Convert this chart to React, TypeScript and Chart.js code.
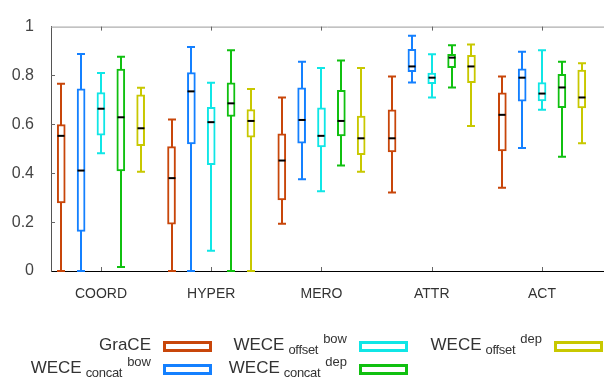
import React, { useEffect, useRef } from "react";
import { Chart, registerables } from "chart.js";

Chart.register(...registerables);

const categories = ["COORD", "HYPER", "MERO", "ATTR", "ACT"];
const seriesColors = ["#c8460a", "#1480ff", "#10e6e6", "#10c010", "#c8c800"];
const seriesMain = ["GraCE", "WECE", "WECE", "WECE", "WECE"];
const seriesSub = ["", "concat", "offset", "concat", "offset"];
const seriesSup = ["", "bow", "bow", "dep", "dep"];

// each row: [min, q1, median, q3, max] for one category
const grace = [
  [0, 0.279, 0.553, 0.599, 0.766],
  [0, 0.192, 0.38, 0.509, 0.62],
  [0.193, 0.291, 0.452, 0.561, 0.71],
  [0.321, 0.487, 0.543, 0.659, 0.796],
  [0.341, 0.491, 0.639, 0.729, 0.796],
];
const weceConcatBow = [
  [0, 0.162, 0.411, 0.745, 0.888],
  [0, 0.52, 0.735, 0.812, 0.917],
  [0.375, 0.523, 0.618, 0.749, 0.856],
  [0.771, 0.816, 0.837, 0.907, 0.963],
  [0.503, 0.695, 0.791, 0.827, 0.897],
];
const weceOffsetBow = [
  [0.482, 0.556, 0.664, 0.73, 0.81],
  [0.083, 0.435, 0.609, 0.67, 0.77],
  [0.326, 0.508, 0.553, 0.668, 0.831],
  [0.71, 0.766, 0.791, 0.81, 0.887],
  [0.66, 0.696, 0.726, 0.771, 0.903],
];
const weceConcatDep = [
  [0.016, 0.41, 0.629, 0.826, 0.877],
  [0, 0.632, 0.686, 0.77, 0.903],
  [0.432, 0.553, 0.614, 0.739, 0.861],
  [0.751, 0.832, 0.873, 0.887, 0.924],
  [0.467, 0.668, 0.751, 0.805, 0.856],
];
const weceOffsetDep = [
  [0.406, 0.513, 0.584, 0.721, 0.75],
  [0, 0.548, 0.614, 0.66, 0.745],
  [0.406, 0.476, 0.543, 0.634, 0.831],
  [0.593, 0.771, 0.837, 0.882, 0.927],
  [0.523, 0.667, 0.71, 0.822, 0.85],
];
const allSeries = [grace, weceConcatBow, weceOffsetBow, weceConcatDep, weceOffsetDep];
const yTickValues = [0, 0.2, 0.4, 0.6, 0.8, 1];
const groupOffset = 0.18;

const boxPlugin = {
  id: "boxWhiskers",
  beforeDatasetsDraw(chart: any) {
    const { ctx, scales } = chart;
    const x = scales.x;
    const y = scales.y;
    ctx.save();
    chart.data.datasets.forEach((ds: any) => {
      ds.stats.forEach((s: number[], i: number) => {
        const px = Math.round(x.getPixelForValue(ds.data[i].x));
        const yMin = y.getPixelForValue(s[0]);
        const yMax = y.getPixelForValue(s[4]);
        ctx.strokeStyle = ds.borderColor;
        ctx.lineWidth = 2;
        ctx.beginPath();
        ctx.moveTo(px, yMin);
        ctx.lineTo(px, yMax);
        ctx.moveTo(px - 4, yMin);
        ctx.lineTo(px + 4, yMin);
        ctx.moveTo(px - 4, yMax);
        ctx.lineTo(px + 4, yMax);
        ctx.stroke();
      });
    });
    ctx.restore();
  },
  afterDatasetsDraw(chart: any) {
    const { ctx, scales, chartArea } = chart;
    const x = scales.x;
    const y = scales.y;
    ctx.save();
    chart.data.datasets.forEach((ds: any) => {
      ds.stats.forEach((s: number[], i: number) => {
        const px = Math.round(x.getPixelForValue(ds.data[i].x));
        const ym = y.getPixelForValue(s[2]);
        ctx.strokeStyle = "#000";
        ctx.lineWidth = 2;
        ctx.beginPath();
        ctx.moveTo(px - 3.5, ym);
        ctx.lineTo(px + 3.5, ym);
        ctx.stroke();
      });
    });
    // top frame line
    ctx.strokeStyle = "#999";
    ctx.lineWidth = 1;
    ctx.beginPath();
    ctx.moveTo(chartArea.left, chartArea.top + 0.5);
    ctx.lineTo(chartArea.right, chartArea.top + 0.5);
    ctx.stroke();
    // inward tick marks
    ctx.strokeStyle = "#666";
    ctx.beginPath();
    categories.forEach((_, i) => {
      const px = Math.round(x.getPixelForValue(i + 1)) + 0.5;
      ctx.moveTo(px, chartArea.bottom);
      ctx.lineTo(px, chartArea.bottom - 4);
      ctx.moveTo(px, chartArea.top);
      ctx.lineTo(px, chartArea.top + 4);
    });
    yTickValues.slice(1, -1).forEach((v) => {
      const py = Math.round(y.getPixelForValue(v)) + 0.5;
      ctx.moveTo(chartArea.left, py);
      ctx.lineTo(chartArea.left + 4, py);
    });
    ctx.stroke();
    ctx.restore();
  },
};

const legendCols = [
  { swatchLeft: 163 },
  { swatchLeft: 359 },
  { swatchLeft: 554 },
];
const legendRows = [335, 358];

export default function App() {
  const canvasRef = useRef<HTMLCanvasElement | null>(null);

  useEffect(() => {
    const canvas = canvasRef.current;
    if (!canvas) return;
    const datasets = allSeries.map((series, di) => ({
      label: seriesMain[di] + (seriesSub[di] ? " " + seriesSub[di] + " " + seriesSup[di] : ""),
      data: series.map((s, i) => ({ x: i + 1 + (di - 2) * groupOffset, y: [s[1], s[3]] })),
      stats: series,
      backgroundColor: "#ffffff",
      borderColor: seriesColors[di],
      borderWidth: 2,
      borderSkipped: false,
      barThickness: 8,
      grouped: false,
    }));
    const chart = new Chart(canvas, {
      type: "bar",
      data: { datasets: datasets as any },
      options: {
        animation: false,
        responsive: false,
        events: [],
        layout: { padding: { top: 9, left: 0, right: 0, bottom: 0 } },
        plugins: { legend: { display: false }, tooltip: { enabled: false } },
        scales: {
          x: {
            type: "linear",
            min: 0.547,
            max: 5.562,
            offset: false,
            afterBuildTicks: (s: any) => {
              s.ticks = categories.map((_, i) => ({ value: i + 1 }));
            },
            afterFit: (s: any) => {
              s.height = 112;
            },
            grid: { display: false, drawTicks: false },
            border: { display: true, color: "#000", width: 1 },
            ticks: {
              autoSkip: false,
              maxRotation: 0,
              padding: 15,
              color: "#333",
              font: { family: "Liberation Sans", size: 14 },
              callback: (v: any) => categories[Math.round(v) - 1] ?? "",
            },
          },
          y: {
            min: 0,
            max: 1,
            afterBuildTicks: (s: any) => {
              s.ticks = yTickValues.map((v) => ({ value: v }));
            },
            afterFit: (s: any) => {
              s.width = 51;
            },
            grid: { display: false, drawTicks: false },
            border: { display: true, color: "#555", width: 1 },
            ticks: {
              padding: 17,
              color: "#444",
              font: { family: "Liberation Sans", size: 16 },
              callback: (v: any) => String(Math.round(v * 10) / 10),
            },
          },
        },
      } as any,
      plugins: [boxPlugin],
    });
    return () => chart.destroy();
  }, []);

  const legendItems = seriesMain.map((main, di) => {
    const col = Math.floor(di / 2);
    const row = di % 2;
    const swatchLeft = legendCols[col].swatchLeft;
    const top = legendRows[row];
    return (
      <React.Fragment key={di}>
        <div
          style={{
            position: "absolute",
            right: 604 - (swatchLeft - 12),
            top,
            whiteSpace: "nowrap",
            fontFamily: "Liberation Sans",
            fontSize: 17,
            lineHeight: "20px",
            color: "#333",
          }}
        >
          <span>{main}</span>
          {seriesSub[di] ? (
            <>
              <span style={{ fontSize: 13, position: "relative", top: 4, marginLeft: 4, letterSpacing: -0.3 }}>
                {seriesSub[di]}
              </span>
              <span style={{ fontSize: 13, position: "relative", top: -7, marginLeft: 5 }}>
                {seriesSup[di]}
              </span>
            </>
          ) : null}
        </div>
        <div
          style={{
            position: "absolute",
            left: swatchLeft,
            top: top + 6,
            width: 43,
            height: 5,
            border: "3px solid " + seriesColors[di],
            background: "#fff",
          }}
        />
      </React.Fragment>
    );
  });

  return (
    <div style={{ position: "absolute", left: 0, top: 0, width: 604, height: 383, background: "#fff", overflow: "hidden" }}>
      <canvas ref={canvasRef} width={604} height={383} style={{ display: "block" }} />
      {legendItems}
    </div>
  );
}
